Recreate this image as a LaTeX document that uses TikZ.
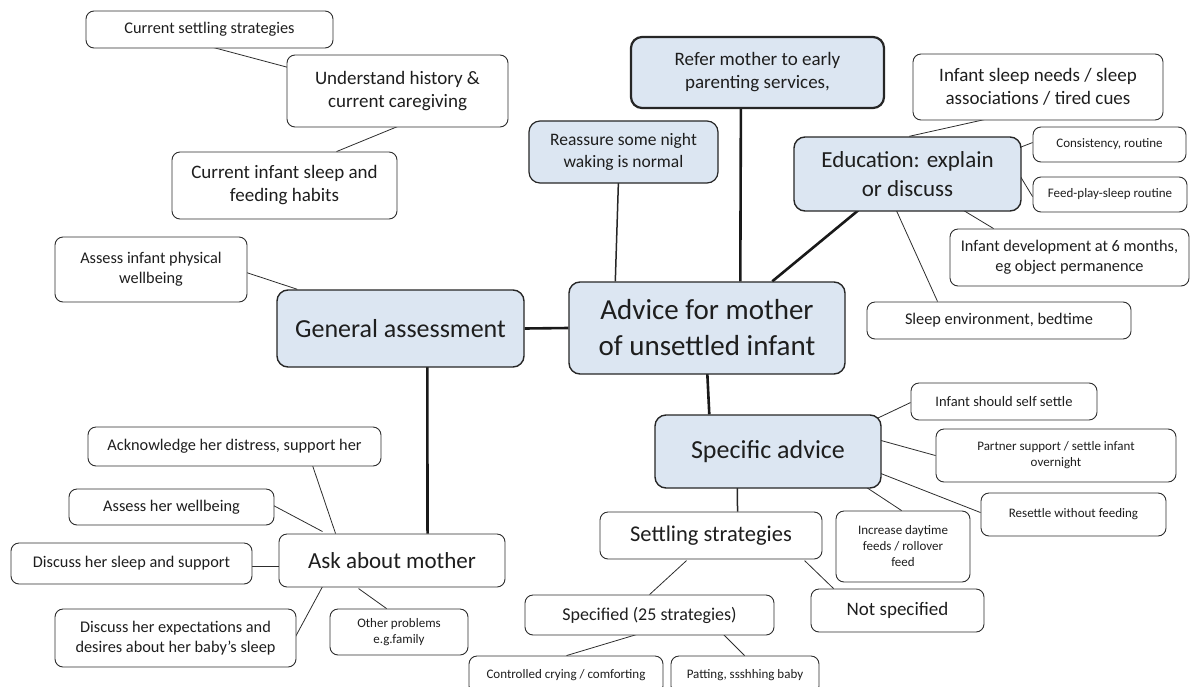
\documentclass[tikz,border=0pt]{standalone}
\usepackage{fontspec}
\setmainfont{Carlito}
\usetikzlibrary{calc,backgrounds}
\definecolor{boxblue}{RGB}{220,230,242}
\definecolor{ink}{RGB}{30,30,30}
\definecolor{edge}{RGB}{45,45,45}
\tikzset{
  leaf/.style={draw=edge, line width=0.9pt, rounded corners=8pt, fill=white,
    text=ink, align=center, inner sep=0pt},
  hub/.style={leaf, fill=boxblue, line width=1.4pt, draw=black!85, rounded corners=11pt},
  link/.style={draw=edge, line width=0.8pt},
  midlink/.style={draw=black!85, line width=1.5pt},
  trunk/.style={draw=black!90, line width=2.6pt},
  f13/.style={font=\fontsize{13}{16}\selectfont},
  f145/.style={font=\fontsize{14.5}{17.5}\selectfont},
  f16/.style={font=\fontsize{16.3}{20}\selectfont},
  f175/.style={font=\fontsize{17.5}{21.5}\selectfont},
  f18/.style={font=\fontsize{18}{22}\selectfont},
  f19/.style={font=\fontsize{19}{23}\selectfont},
  f22/.style={font=\fontsize{22.5}{27.5}\selectfont},
  f23/.style={font=\fontsize{23}{29}\selectfont},
  f26/.style={font=\fontsize{26}{31.5}\selectfont},
  f29/.style={font=\fontsize{29}{36}\selectfont},
}
\newcommand\pt[3]{($(#1.north west)+(#2,#3)$)}
\begin{document}
\begin{tikzpicture}[x=1pt,y=-1pt]
\useasboundingbox (0,0) rectangle (1192,686);
\clip (0,0) rectangle (1192,686);

% central topic and first-level branches
\node[hub, minimum width=276pt, minimum height=92pt, f29] (adv) at (707,328) {Advice for mother\\of unsettled infant};
\node[hub, minimum width=247pt, minimum height=77pt, f26] (gen) at (400.5,328.5) {General assessment};
\node[hub, line width=2.2pt, minimum width=253pt, minimum height=71pt, f19] (ref) at (757.5,72.5) {Refer mother to early\\parenting services,};
\node[hub, line width=1.2pt, minimum width=189pt, minimum height=62pt, f175] (rea) at (623.5,152) {Reassure some night\\waking is normal};
\node[hub, minimum width=227pt, minimum height=74pt, f23] (edu) at (907.5,174) {Education: explain\\or discuss};
\node[hub, minimum width=226pt, minimum height=73pt, f26] (spa) at (768,451.5) {Specific advice};

% general assessment branch
\node[leaf, minimum width=247pt, minimum height=37pt, f16] (css) at (209.5,29.5) {Current settling strategies};
\node[leaf, minimum width=221pt, minimum height=72pt, f19] (und) at (397.5,91) {Understand history \&\\current caregiving};
\node[leaf, minimum width=225pt, minimum height=67pt, f19] (cis) at (284.5,185.5) {Current infant sleep and\\feeding habits};
\node[leaf, minimum width=192pt, minimum height=65pt, f16] (aip) at (151,269.5) {Assess infant physical\\wellbeing};

% questions about the mother
\node[leaf, minimum width=226pt, minimum height=53pt, f23] (ask) at (392,560.5) {Ask about mother};
\node[leaf, minimum width=293pt, minimum height=39pt, f16] (ack) at (234.5,446.5) {Acknowledge her distress, support her};
\node[leaf, minimum width=205pt, minimum height=36pt, f16] (ahw) at (171.5,507) {Assess her wellbeing};
\node[leaf, minimum width=241pt, minimum height=41pt, f16] (dss) at (131.5,563.5) {Discuss her sleep and support};
\node[leaf, minimum width=241pt, minimum height=58pt, f16] (dex) at (175.5,638) {Discuss her expectations and\\desires about her baby’s sleep};
\node[leaf, minimum width=138pt, minimum height=46pt, f13] (oth) at (399,632) {Other problems\\e.g.family};

% education branch
\node[leaf, minimum width=250pt, minimum height=66pt, f19] (isn) at (1038,87) {Infant sleep needs / sleep\\associations / tired cues};
\node[leaf, minimum width=153pt, minimum height=35pt, f13] (con) at (1109.5,144.5) {Consistency, routine};
\node[leaf, minimum width=154pt, minimum height=35pt, f13] (fps) at (1110,194.5) {Feed-play-sleep routine};
\node[leaf, minimum width=239pt, minimum height=57pt, f16] (idev) at (1069.5,257.5) {Infant development at 6 months,\\eg object permanence};
\node[leaf, minimum width=264pt, minimum height=37pt, f16] (sle) at (999,320.5) {Sleep environment, bedtime};

% specific advice branch
\node[leaf, minimum width=186pt, minimum height=37pt, f145] (sss) at (1004,401.5) {Infant should self settle};
\node[leaf, minimum width=240pt, minimum height=53pt, f13] (par) at (1056,455.5) {Partner support / settle infant\\overnight};
\node[leaf, minimum width=185pt, minimum height=43pt, f13] (res) at (1073.5,514.5) {Resettle without feeding};
\node[leaf, minimum width=134pt, minimum height=71pt, f13] (inc) at (903,546.5) {Increase daytime\\feeds / rollover\\feed};
\node[leaf, minimum width=222pt, minimum height=47pt, f22] (set) at (711,535.5) {Settling strategies};
\node[leaf, minimum width=249pt, minimum height=40pt, f18] (spe) at (649.5,615) {Specified (25 strategies)};
\node[leaf, minimum width=173pt, minimum height=43pt, f19] (nsp) at (897.5,610.5) {Not specified};
\node[leaf, minimum width=194pt, minimum height=38pt, f13] (ctl) at (566,675) {Controlled crying / comforting};
\node[leaf, minimum width=148pt, minimum height=38pt, f13] (pat) at (745,675) {Patting, ssshhing baby};

\begin{scope}[on background layer]
  % main trunks
  \draw[trunk] (gen.east) -- (adv.west);
  \draw[trunk] \pt{ref}{111}{71} -- \pt{adv}{172}{0};
  \draw[trunk] \pt{edu}{65}{74} -- \pt{adv}{204}{0};
  \draw[trunk] \pt{adv}{139}{92} -- \pt{spa}{55}{0};
  \draw[trunk] \pt{gen}{151}{77} -- \pt{ask}{149}{0};
  \draw[midlink] \pt{rea}{90}{62} -- \pt{adv}{47}{0};
  \draw[midlink] \pt{spa}{83}{73} -- \pt{set}{138}{0};
  % thin links
  \draw[link] \pt{css}{128}{37} -- \pt{und}{2}{13};
  \draw[link] \pt{und}{111}{72} -- \pt{cis}{165}{0};
  \draw[link] \pt{aip}{192}{36} -- \pt{gen}{21}{0};
  \draw[link] \pt{isn}{72}{66} -- \pt{edu}{116}{0};
  \draw[link] \pt{edu}{227}{11} -- \pt{con}{0}{16};
  \draw[link] \pt{edu}{227}{40} -- \pt{fps}{0}{20};
  \draw[link] \pt{edu}{170}{74} -- \pt{idev}{44}{0};
  \draw[link] \pt{edu}{103}{74} -- \pt{sle}{71}{0};
  \draw[link] \pt{spa}{223}{4} -- \pt{sss}{0}{20};
  \draw[link] \pt{spa}{226}{26} -- \pt{par}{0}{27};
  \draw[link] \pt{spa}{226}{59} -- \pt{res}{0}{20};
  \draw[link] \pt{spa}{212}{73} -- \pt{inc}{66}{0};
  \draw[link] \pt{set}{87}{49} -- \pt{spe}{125}{0};
  \draw[link] \pt{set}{205}{49} -- \pt{nsp}{23}{0};
  \draw[link] \pt{spe}{112}{40} -- \pt{ctl}{98}{0};
  \draw[link] \pt{spe}{199}{40} -- \pt{pat}{74}{0};
  \draw[link] \pt{ack}{225}{39} -- \pt{ask}{57}{0};
  \draw[link] \pt{ahw}{205}{17} -- \pt{ask}{44}{-2};
  \draw[link] \pt{dss}{241}{24} -- \pt{ask}{0}{33};
  \draw[link] \pt{ask}{44}{53} -- \pt{dex}{241}{28};
  \draw[link] \pt{ask}{80}{55} -- \pt{oth}{57}{0};
\end{scope}
\end{tikzpicture}
\end{document}
